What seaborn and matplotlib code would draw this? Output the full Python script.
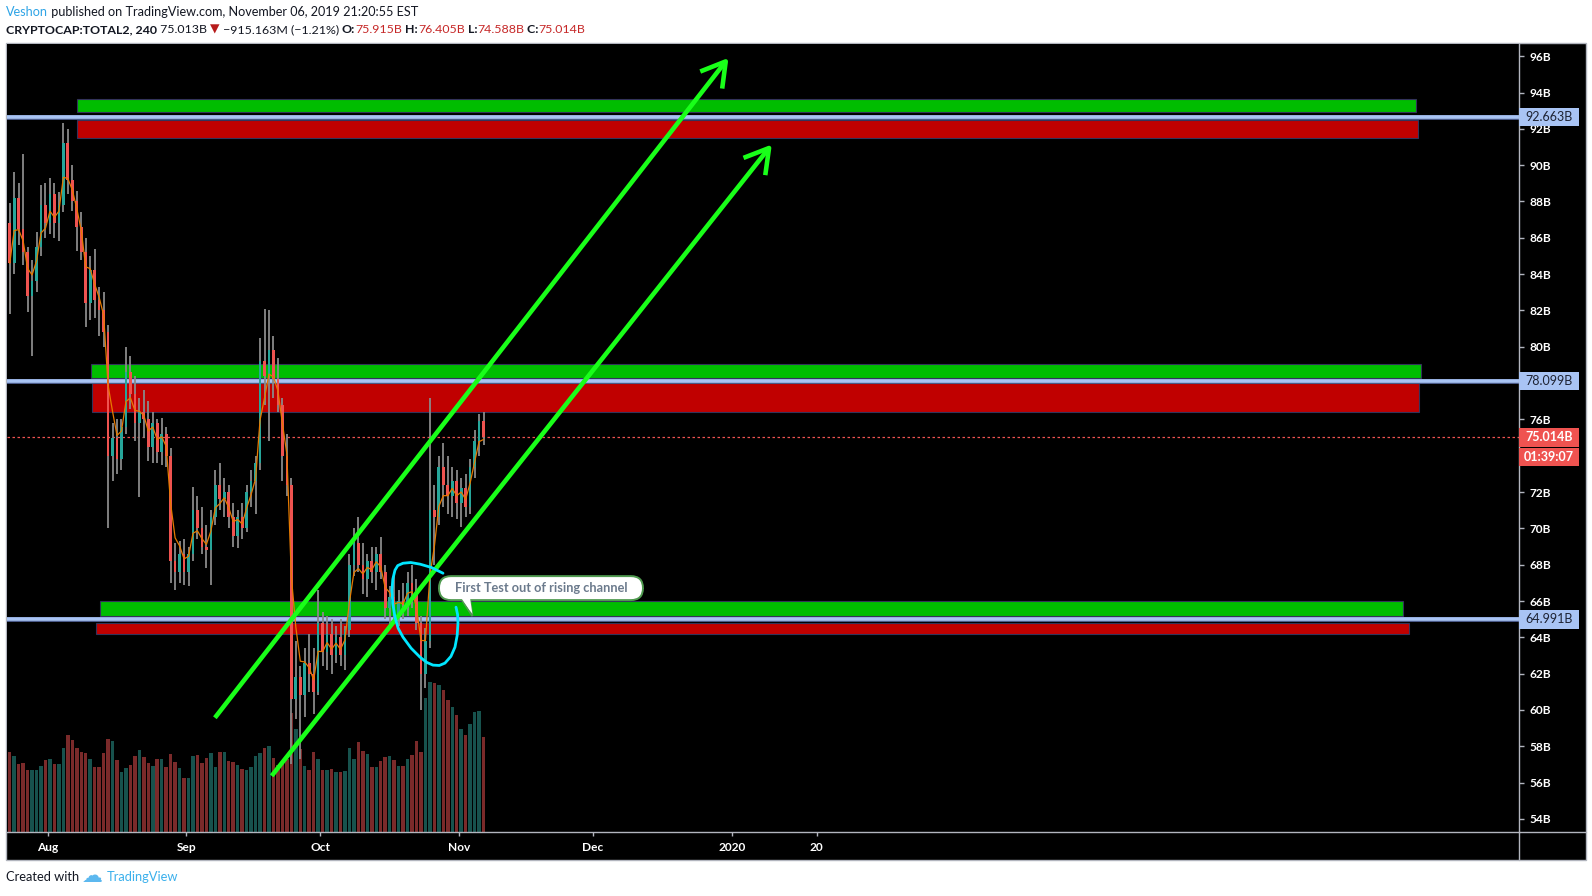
import numpy as np
import pandas as pd
import matplotlib
matplotlib.use("Agg")
import matplotlib.pyplot as plt
import matplotlib.dates as mdates
import matplotlib.transforms as mtransforms
from matplotlib.patches import Rectangle, FancyBboxPatch, Polygon
from matplotlib.lines import Line2D
import matplotlib.patheffects as pe
import seaborn as sns

# ---------------- data ----------------
start_date = "2019-07-23"
opens = [86.8, 84.6, 88.2, 86.5, 85.2, 82.8, 83.6, 85.5, 87.8, 86.8,
         88.4, 86.8, 87.8, 91.2, 89.2, 88.0, 86.6, 85.2, 82.4, 84.2,
         82.6, 82.0, 80.8, 74.0, 75.0, 73.8, 75.6, 78.6, 77.4, 75.8,
         76.4, 76.0, 74.5, 75.8, 74.2, 75.2, 74.0, 68.2, 67.6, 68.6,
         67.6, 68.6, 71.0, 70.0, 69.0, 68.8, 70.6, 72.4, 71.6, 72.0,
         70.6, 69.6, 70.6, 70.0, 72.0, 72.6, 73.6, 79.2, 78.4, 79.8,
         78.2, 76.8, 74.0, 72.4, 60.6, 61.8, 60.8, 62.6, 62.0, 61.0,
         64.8, 63.2, 64.2, 63.0, 64.0, 63.0, 64.4, 68.0, 69.2, 68.0,
         67.2, 68.2, 67.6, 68.6, 67.6, 65.6, 66.2, 65.2, 66.0, 65.8,
         67.0, 66.6, 64.8, 62.0, 63.8, 71.0, 70.6, 73.4, 72.4, 71.8,
         72.6, 71.4, 72.2, 71.2, 73.4, 74.8, 75.9]
highs = [87.9, 89.6, 89.0, 90.6, 85.5, 84.8, 86.3, 88.9, 89.0, 89.3,
         89.0, 88.5, 92.3, 92.0, 90.0, 88.6, 87.4, 86.0, 85.0, 85.4,
         83.3, 83.0, 81.2, 75.8, 76.0, 76.0, 80.0, 79.5, 78.4, 77.2,
         77.6, 77.0, 76.4, 76.0, 76.1, 75.6, 74.4, 69.2, 69.3, 69.4,
         69.0, 72.3, 71.8, 71.2, 70.2, 71.0, 73.2, 73.6, 72.8, 72.4,
         71.4, 71.0, 71.4, 72.4, 73.2, 74.0, 80.5, 82.1, 82.0, 80.6,
         79.4, 77.2, 75.2, 72.8, 63.8, 62.4, 63.4, 64.2, 63.4, 66.6,
         65.4, 65.2, 65.0, 64.6, 65.0, 64.6, 68.6, 70.0, 70.6, 69.2,
         68.6, 69.0, 69.0, 69.5, 68.0, 66.8, 67.4, 66.6, 67.0, 67.6,
         68.0, 67.2, 65.2, 64.5, 77.2, 72.4, 74.0, 74.7, 74.0, 73.4,
         73.2, 72.8, 73.0, 73.8, 75.4, 76.3, 76.4]
lows = [81.8, 84.0, 85.6, 84.5, 81.9, 79.5, 83.0, 85.0, 86.0, 86.2,
        86.0, 85.8, 87.4, 88.4, 87.5, 85.3, 84.8, 81.1, 81.5, 81.6,
        80.6, 80.0, 70.0, 72.6, 73.0, 73.2, 75.2, 76.6, 74.8, 71.7,
        75.0, 73.7, 73.6, 73.6, 73.5, 73.4, 67.0, 66.6, 67.0, 66.9,
        66.8, 68.2, 69.4, 68.6, 67.8, 66.9, 70.2, 71.0, 70.6, 70.0,
        69.0, 68.9, 69.4, 69.8, 71.2, 70.8, 73.2, 76.8, 74.8, 77.2,
        76.4, 72.6, 71.8, 57.0, 59.5, 57.3, 59.6, 61.0, 59.8, 60.8,
        62.4, 62.2, 62.0, 62.6, 62.4, 62.2, 64.0, 67.4, 67.6, 66.4,
        66.2, 67.0, 66.6, 67.2, 65.0, 64.6, 64.8, 64.6, 65.0, 65.2,
        65.6, 64.4, 60.0, 61.2, 63.4, 68.0, 70.2, 71.2, 70.8, 70.6,
        70.5, 70.1, 70.6, 70.8, 72.8, 74.0, 74.6]
closes = [84.6, 88.2, 86.5, 85.2, 82.8, 83.6, 85.5, 87.8, 86.8, 88.4,
          86.8, 87.8, 91.2, 89.2, 88.0, 86.6, 85.2, 82.4, 84.2, 82.6,
          82.0, 80.8, 74.0, 75.0, 73.8, 75.6, 78.6, 77.4, 75.8, 76.4,
          76.0, 74.5, 75.8, 74.2, 75.2, 74.0, 68.2, 67.6, 68.6, 67.6,
          68.6, 71.0, 70.0, 69.0, 68.8, 70.6, 72.4, 71.6, 72.0, 70.6,
          69.6, 70.6, 70.0, 72.0, 72.6, 73.6, 79.2, 78.4, 79.8, 78.2,
          76.8, 74.0, 72.4, 60.6, 61.8, 60.8, 62.6, 62.0, 61.0, 64.8,
          63.2, 64.2, 63.0, 64.0, 63.0, 64.4, 68.0, 69.2, 68.0, 67.2,
          68.2, 67.6, 68.6, 67.6, 65.6, 66.2, 65.2, 66.0, 65.8, 67.0,
          66.6, 64.8, 62.0, 63.8, 71.0, 70.6, 73.4, 72.4, 71.8, 72.6,
          71.4, 72.2, 71.2, 73.4, 74.8, 75.9, 75.014]
volumes = [10.1, 9.6, 8.6, 8.8, 7.8, 7.8, 7.8, 8.4, 9.1, 9.3,
           8.6, 8.6, 10.6, 12.3, 11.7, 10.7, 10.1, 10.0, 9.3, 8.2,
           8.3, 10.0, 11.8, 11.6, 9.1, 7.6, 8.1, 8.5, 9.6, 10.4,
           9.5, 8.7, 8.4, 9.2, 9.3, 8.3, 9.9, 8.9, 8.1, 6.9,
           6.8, 9.6, 9.8, 8.7, 9.4, 10.0, 8.3, 10.2, 10.1, 9.0,
           8.9, 8.5, 8.0, 7.8, 8.3, 9.6, 10.0, 10.6, 10.9, 9.4,
           8.5, 9.0, 9.3, 15.1, 13.1, 10.5, 8.4, 7.8, 10.1, 9.3,
           7.8, 7.8, 8.0, 7.6, 7.6, 7.7, 10.6, 9.3, 11.4, 10.3,
           9.9, 8.2, 8.2, 9.0, 9.5, 9.7, 9.1, 8.4, 8.4, 9.2,
           9.8, 11.5, 10.1, 17.0, 19.0, 18.9, 18.7, 18.0, 16.8, 15.9,
           14.9, 13.0, 12.3, 13.7, 15.2, 15.3, 12.1]

last_price = 75.014
countdown = "01:39:07"
level_prices = [92.663, 78.099, 64.991]
level_labels = ["92.663B", "78.099B", "64.991B"]

# supply / demand zones: (start day, end day) offsets from start_date, price range
zone_start = [15.5, 15.5, 18.7, 19.0, 20.6, 19.7]
zone_end = [315.1, 315.6, 316.3, 315.8, 312.2, 313.5]
zone_low = [92.92, 91.51, 78.28, 76.41, 65.16, 64.17]
zone_high = [93.64, 92.46, 79.03, 77.98, 66.01, 64.77]
zone_kind = ["green", "red", "green", "red", "green", "red"]

# channel arrows (day offset, price)
arrow_from = [(46.4, 59.57), (59.1, 56.37)]
arrow_to = [(161.3, 95.91), (171.0, 91.14)]

# hand-drawn loop (day offset, price)
loop_days = [97.43, 94.8, 92.28, 90.2, 88.48, 87.3, 86.69, 86.2, 86.02, 86.2, 86.69, 87.4, 88.48,
             90.3, 92.28, 93.8, 95.19, 96.6, 97.87, 99.2, 100.11, 100.6, 100.78, 100.7, 100.34]
loop_prices = [67.53, 67.85, 68.03, 68.12, 68.08, 67.95, 67.70, 67.2, 66.60, 65.85, 65.11, 64.5, 64.01,
               63.4, 62.91, 62.62, 62.47, 62.45, 62.58, 62.95, 63.46, 64.1, 64.78, 65.25, 65.66]

callout_text = "First Test out of rising channel"
callout_box = (96.53, 142.17, 66.05, 67.37)  # day0, day1, price0, price1
callout_tail = [(101.6, 66.08), (104.0, 65.17), (103.5, 66.08)]

x_tick_dates = ["2019-08-01", "2019-09-01", "2019-10-01", "2019-11-01", "2019-12-01", "2020-01-01", "2020-01-20"]
x_tick_labels = ["Aug", "Sep", "Oct", "Nov", "Dec", "2020", "20"]
y_ticks = list(range(54, 97, 2))
y_ticks_hidden = [74, 78]   # covered by the price labels on the scale

# ---------------- styling ----------------
sns.set_theme(style="dark")
plt.rcParams["font.family"] = ["Lato", "DejaVu Sans"]

W, H = 1592, 896
fig = plt.figure(figsize=(W / 100, H / 100), dpi=100)
fig.patch.set_facecolor("white")

GRID = "#b2b5be"
# widget background
fig.patches.append(Rectangle((6 / W, 1 - 859.5 / H), (1585.5 - 6) / W, (859.5 - 43.5) / H,
                             transform=fig.transFigure, fc="black", ec=GRID, lw=1.0, zorder=-5))

ax_l, ax_r, ax_t, ax_b = 7, 1519, 43.5, 832
ax2 = fig.add_axes([ax_l / W, 1 - ax_b / H, (ax_r - ax_l) / W, (ax_b - ax_t) / H])
ax = fig.add_axes([ax_l / W, 1 - ax_b / H, (ax_r - ax_l) / W, (ax_b - ax_t) / H], sharex=ax2)
ax2.set_zorder(1)
ax.set_zorder(2)
ax.patch.set_visible(False)
ax2.patch.set_facecolor("black")

base = mdates.date2num(pd.Timestamp(start_date))
dates = pd.date_range(start_date, periods=len(closes), freq="D")
centers = mdates.date2num(dates) + 0.5

o = np.array(opens); h = np.array(highs); l = np.array(lows); c = np.array(closes)
up = c >= o

# volume
vol_colors = np.where(up, "#17524d", "#7a2a2a")
ax2.bar(centers, volumes, width=0.78, color=vol_colors, linewidth=0)
ax2.set_ylim(0, 100)
ax2.set_yticks([])
ax2.tick_params(axis="x", which="both", bottom=False, labelbottom=False)
ax2.grid(False)
for s in ax2.spines.values():
    s.set_visible(False)

# zones
for x0, x1, lo, hi, kind in zip(zone_start, zone_end, zone_low, zone_high, zone_kind):
    fc = "#00bd00" if kind == "green" else "#c00000"
    ax.add_patch(Rectangle((base + x0, lo), x1 - x0, hi - lo, fc=fc, ec="#33335a", lw=0.8, zorder=1))

# horizontal levels
for lv in level_prices:
    ax.axhline(lv, color="#a9c4f4", lw=2.6, zorder=2,
               path_effects=[pe.Stroke(linewidth=3.6, foreground="#4a5a88"), pe.Normal()])

# current price dashed line
ax.axhline(last_price, color="#ef5350", lw=0.9, ls=(0, (2, 2)), zorder=2)

# candles
ax.vlines(centers, l, h, color="#8a8a8a", lw=1.3, zorder=3)
body_lo = np.minimum(o, c)
body_h = np.maximum(np.abs(c - o), 0.08)
ax.bar(centers, body_h, bottom=body_lo, width=0.6,
       color=np.where(up, "#26a69a", "#ef5350"), linewidth=0, zorder=4)

# moving average line
ma = pd.Series(closes).ewm(span=3, adjust=False).mean().values
sns.lineplot(x=centers, y=ma, ax=ax, color="#e67a00", lw=0.9, zorder=5)

# channel arrows
for (d0, p0), (d1, p1) in zip(arrow_from, arrow_to):
    ax.annotate("", xy=(base + d1, p1), xytext=(base + d0, p0),
                arrowprops=dict(arrowstyle="->,head_length=0.85,head_width=0.5",
                                color="#19ff19", lw=3.3, shrinkA=0, shrinkB=0,
                                mutation_scale=20, capstyle="butt"),
                zorder=7, annotation_clip=False)

# hand drawn loop
ax.plot(base + np.array(loop_days), loop_prices, color="#00e6ff", lw=2.0,
        solid_capstyle="round", solid_joinstyle="round", zorder=8)

# callout
d0, d1, p0, p1 = callout_box
ax.add_patch(Polygon([(base + a, b) for a, b in callout_tail], closed=True,
                     fc="white", ec="#4f9a4f", lw=1.4, zorder=9))
box = FancyBboxPatch((base + d0, p0), d1 - d0, p1 - p0,
                     boxstyle="round,pad=0,rounding_size=2.7", mutation_aspect=0.246,
                     fc="white", ec="#4f9a4f", lw=1.4, zorder=9)
ax.add_patch(box)
ax.add_patch(Polygon([(base + a, b + 0.05) for a, b in callout_tail[::2]] + [(base + callout_tail[1][0], callout_tail[1][1] + 0.12)],
                     closed=True, fc="white", ec="none", zorder=9.5))
ax.text(base + (d0 + d1) / 2, (p0 + p1) / 2, callout_text, ha="center", va="center",
        fontsize=9.2, fontweight="bold", color="#6b7a8c", zorder=10)

# axes limits
ax.set_xlim(base - 0.11, base + 338.15)
ax.set_ylim(53.28, 96.70)

# axes styling
for name, s in ax.spines.items():
    if name in ("right", "bottom"):
        s.set_color(GRID); s.set_linewidth(1.0); s.set_visible(True)
    else:
        s.set_visible(False)
ax.grid(False)
ax.yaxis.tick_right()
ax.set_yticks(y_ticks)
ax.set_yticklabels(["" if v in y_ticks_hidden else f"{v}B" for v in y_ticks])
ax.tick_params(axis="y", which="both", right=True, left=False, length=3.5, width=1,
               color=GRID, pad=4, labelsize=8.6, labelcolor="white")
ax.set_xticks(mdates.date2num(pd.to_datetime(x_tick_dates)))
ax.set_xticklabels(x_tick_labels)
ax.tick_params(axis="x", which="both", bottom=True, length=3, width=1, color=GRID,
               pad=4, labelsize=8.6, labelcolor="white")
for lab in ax.get_yticklabels() + ax.get_xticklabels():
    lab.set_fontweight("bold")
ax.set_xlabel(""); ax.set_ylabel("")

# extend separator lines into the scale strips
fig.lines.append(Line2D([ax_r / W, ax_r / W], [1 - 859.5 / H, 1 - ax_b / H], transform=fig.transFigure, color=GRID, lw=1.0, zorder=5))
fig.lines.append(Line2D([ax_r / W, 1585.5 / W], [1 - ax_b / H, 1 - ax_b / H], transform=fig.transFigure, color=GRID, lw=1.0, zorder=5))

# price labels on the scale
blend = mtransforms.blended_transform_factory(ax.transAxes, ax.transData)
box_w = 60 / (ax_r - ax_l)
half_h = 9.2 / 18.17
for lv, txt in zip(level_prices, level_labels):
    ax.add_patch(Rectangle((1.0, lv - half_h), box_w, 2 * half_h, transform=blend, clip_on=False,
                           fc="#a9c4f4", ec="none", zorder=20))
    ax.text(1.0 + box_w / 2, lv, txt, transform=blend, ha="center", va="center",
            fontsize=9, color="#1e2333", zorder=21, clip_on=False)
ax.add_patch(Rectangle((1.0, last_price - half_h), box_w, 2 * half_h, transform=blend, clip_on=False,
                       fc="#ef5350", ec="none", zorder=20))
ax.text(1.0 + box_w / 2, last_price, f"{last_price:.3f}B", transform=blend, ha="center", va="center",
        fontsize=9, fontweight="bold", color="white", zorder=21, clip_on=False)
cd_y = last_price - 2 * half_h - 0.06
ax.add_patch(Rectangle((1.0, cd_y - half_h), box_w, 2 * half_h, transform=blend, clip_on=False,
                       fc="#ef5350", ec="none", zorder=20))
ax.text(1.0 + box_w / 2, cd_y, countdown, transform=blend, ha="center", va="center",
        fontsize=9, fontweight="bold", color="white", zorder=21, clip_on=False)

# header / footer text
renderer = fig.canvas.get_renderer()


def seq_text(x_px, y_px, pieces, size):
    x = x_px
    for s, color, weight in pieces:
        t = fig.text(x / W, 1 - y_px / H, s, color=color, fontsize=size, fontweight=weight,
                     ha="left", va="center")
        x += t.get_window_extent(renderer=renderer).width
    return x


DARK = "#131722"
RED = "#c62828"
seq_text(6, 12.5, [("Veshon", "#2ea4e6", "normal"),
                   (" published on TradingView.com, November 06, 2019 21:20:55 EST", DARK, "normal")], 9.1)
seq_text(6, 29.5, [("CRYPTOCAP:TOTAL2, 240", DARK, "bold"), (" 75.013B ", DARK, "normal"),
                   ("\u25bc", "#b71c1c", "normal"), (" \u2212915.163M (\u22121.21%) ", DARK, "normal"),
                   ("O:", DARK, "bold"), ("75.915B", RED, "normal"), (" H:", DARK, "bold"),
                   ("76.405B", RED, "normal"), (" L:", DARK, "bold"), ("74.588B", RED, "normal"),
                   (" C:", DARK, "bold"), ("75.014B", RED, "normal")], 8.95)
xe = seq_text(6, 877, [("Created with ", DARK, "normal")], 9.3)
fig.text(xe / W, 1 - 876 / H, "\u2601", color="#5cb8ef", fontsize=15, family=["DejaVu Sans"],
         ha="left", va="center")
fig.text((xe + 24) / W, 1 - 877 / H, "TradingView", color="#3bb0ec", fontsize=9.3, ha="left", va="center")

fig.savefig("out.png", dpi=100, facecolor=fig.get_facecolor())
